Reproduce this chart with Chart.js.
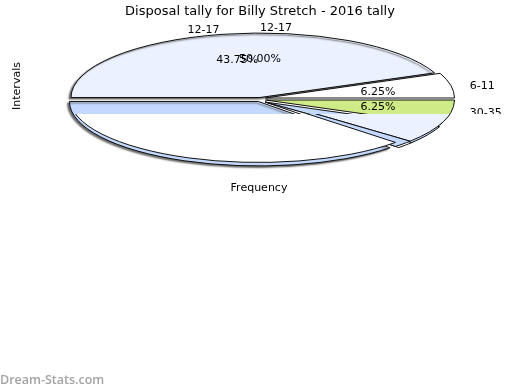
<!DOCTYPE html>
<html>
<head>
<meta charset="utf-8">
<script src="https://cdn.jsdelivr.net/npm/chart.js@4"></script>
<style>
body { margin: 0; background: #fff; }
canvas { position: absolute; left: 0; top: 0; }
</style>
</head>
<body>
<script>
// Porcentajes, empezando en la izquierda y en sentido horario
const upperValues = [43.75, 6.25, 50];
const upperLabels = ["12-17", "6-11", ""];
const upperPercent = ["43.75%", "6.25%", ""];
const backValues = [50, 6.25, 43.75];
const backLabels = ["12-17", "30-35", ""];
const backPercent = ["50.00%", "6.25%", ""];
const wedgeValues = [56.25, 4.6, 1.65, 37.5];
const lowerValues = [50, 11.2, 1.8, 37];
const rimValues = [62.75, 37.25];
const whiteValues = [62.1, 37.9];

const light = "#ebf1ff";
const blue = "#c4d9ff";
const green = "#cfeb87";
const white = "#fff";
const none = "rgba(0,0,0,0)";
const line = "#111";
const font = "DejaVu Sans";

const radius = 189;
const squash = 0.341; // alto / ancho de la elipse

// Aplasta el pie en una elipse; el trazo se hace sin escalar para que la linea no cambie de grosor
const ellipsePlugin = {
    id: "ellipse",
    beforeDatasetsDraw(chart, args, opts) {
        const ctx = chart.ctx;
        const area = chart.chartArea;
        ctx.save();
        if (opts.clipTop) {
            ctx.beginPath();
            ctx.rect(0, opts.clipTop, chart.width, chart.height);
            ctx.clip();
        }
        if (opts.shadow) {
            ctx.shadowColor = "#666";
            ctx.shadowOffsetX = -2;
            ctx.shadowOffsetY = 1.5;
            ctx.shadowBlur = 1.5;
        }
        ctx.translate(opts.centerX, opts.centerY);
        ctx.scale(1, squash);
        ctx.translate(-(area.left + area.right) / 2, -(area.top + area.bottom) / 2);
        const stroke = ctx.stroke;
        ctx.stroke = function () {
            const m = ctx.getTransform();
            ctx.setTransform(1, 0, 0, 1, 0, 0);
            stroke.call(ctx);
            ctx.setTransform(m);
        };
    },
    afterDatasetsDraw(chart) {
        delete chart.ctx.stroke;
        chart.ctx.restore();
    },
    afterDraw(chart, args, opts) {
        const ctx = chart.ctx;
        ctx.save();
        ctx.fillStyle = "#000";
        ctx.font = "11px '" + font + "'";
        ctx.textBaseline = "middle";
        const arcs = chart.getDatasetMeta(0).data;
        arcs.forEach((arc, i) => {
            if (!opts.labels || !opts.labels[i]) return;
            const mid = (arc.startAngle + arc.endAngle) / 2;
            const nudge = opts.nudge[i];
            const dx = Math.cos(mid);
            const dy = Math.sin(mid) * squash;
            ctx.textAlign = "center";
            ctx.fillText(opts.percent[i], opts.centerX + dx * (radius * 0.62 + nudge / 2), opts.centerY + dy * radius * 0.62);
            ctx.textAlign = dx >= -0.01 ? "left" : "right";
            ctx.save();
            ctx.beginPath();
            ctx.rect(0, 0, chart.width, 114);
            ctx.clip();
            ctx.fillText(opts.labels[i], opts.centerX + dx * (radius * 1.1 + nudge), opts.centerY + dy * radius * 1.1);
            ctx.restore();
        });
        if (opts.captions) {
            ctx.textAlign = "center";
            ctx.fillText("Frequency", 259, 188);
            ctx.save();
            ctx.translate(17, 86);
            ctx.rotate(-Math.PI / 2);
            ctx.fillText("Intervals", 0, 0);
            ctx.restore();
            ctx.textAlign = "left";
            ctx.fillStyle = "#a3a3a3";
            ctx.font = "600 12.5px 'Open Sans'";
            ctx.fillText("Dream-Stats.com", 0, 380);
        }
        ctx.restore();
    }
};

// Cada capa es un pie propio en su lienzo, desplazado como los trozos separados del original
function crearPie(values, colors, opts, title) {
    const canvas = document.createElement("canvas");
    canvas.width = 520;
    canvas.height = 390;
    document.body.appendChild(canvas);
    return new Chart(canvas, {
        type: "pie",
        data: {
            datasets: [{
                data: values,
                backgroundColor: colors,
                borderColor: colors.map((c) => (c === none ? none : line)),
                borderWidth: 1,
                clip: false,
            }],
        },
        options: {
            responsive: false,
            animation: false,
            events: [],
            rotation: -90,
            radius: radius,
            plugins: {
                legend: { display: false },
                tooltip: { enabled: false },
                title: title ? {
                    display: true,
                    text: title,
                    color: "#000",
                    padding: { top: 4, bottom: 0 },
                    font: { family: font, size: 13, weight: "normal" },
                } : { display: false },
                ellipse: opts,
            },
        },
        plugins: [ellipsePlugin],
    });
}

// Mitad de arriba
crearPie(upperValues, [light, none, none], { centerX: 260, centerY: 97.5, shadow: true },
    "Disposal tally for Billy Stretch - 2016 tally");
crearPie(upperValues, [none, white, none], { centerX: 265.5, centerY: 98 });

// Mitad de abajo
crearPie(rimValues, [none, blue], { centerX: 258.5, centerY: 101.5, shadow: true });
crearPie(wedgeValues, [none, blue, white, none], { centerX: 265, centerY: 102 });
crearPie(backValues, [none, green, none], { centerX: 265.5, centerY: 100 });

// Lo que queda por debajo de la banda
crearPie(lowerValues, [none, light, blue, none], { centerX: 266, centerY: 99.5, clipTop: 114 });
crearPie(whiteValues, [none, white], { centerX: 258.5, centerY: 98, clipTop: 114 });

// Textos encima de todo
crearPie(upperValues, [none, none, none], {
    centerX: 260, centerY: 99.5, labels: upperLabels, percent: upperPercent, nudge: [0, 6, 0], captions: true,
});
crearPie(backValues, [none, none, none], {
    centerX: 260, centerY: 99.5, labels: backLabels, percent: backPercent, nudge: [0, 6, 0],
});
</script>
</body>
</html>
